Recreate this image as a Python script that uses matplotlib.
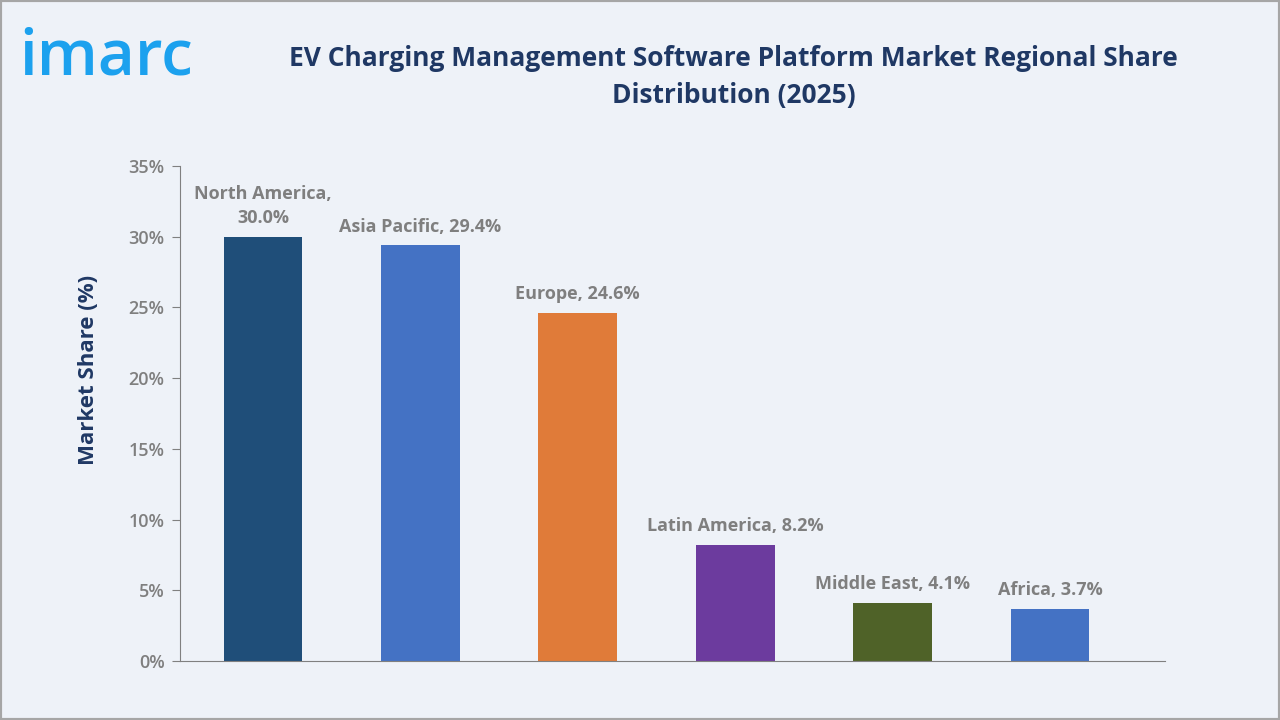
import matplotlib.pyplot as plt
from matplotlib.patches import Rectangle

plt.rcParams['font.family'] = ['Open Sans', 'DejaVu Sans']

regions = ['North America', 'Asia Pacific', 'Europe', 'Latin America', 'Middle East', 'Africa']
shares = [30.0, 29.4, 24.6, 8.2, 4.1, 3.7]
colors = ['#1f4e79', '#4472c4', '#e07b39', '#6c3b9e', '#4f6228', '#4472c4']
yticks = [0, 5, 10, 15, 20, 25, 30, 35]

bg = '#eef2f8'
grey = '#7f7f7f'
navy = '#1f3864'

fig = plt.figure(figsize=(12.8, 7.2), dpi=100, facecolor=bg)
fig.patches.append(Rectangle((0, 0), 1, 1, transform=fig.transFigure, fill=False,
                             edgecolor='#a6a6a6', linewidth=3))

ax = fig.add_axes([0.1406, 0.0819, 0.7695, 0.6875], facecolor=bg)
x = range(len(regions))
ax.bar(x, shares, width=0.5, color=colors)

for i, (r, v) in enumerate(zip(regions, shares)):
    if i == 0:
        txt = f'{r},\n{v:.1f}%'
    else:
        txt = f'{r}, {v:.1f}%'
    ax.annotate(txt, (i, v), xytext=(0, 7), textcoords='offset points', ha='center', va='bottom',
                fontsize=13, fontweight='bold', color=grey, linespacing=1.45)

ax.set_xlim(-0.527, 5.73)
ax.set_ylim(0, 35)
ax.set_yticks(yticks)
ax.set_yticklabels([f'{t}%' for t in yticks], fontsize=13, fontweight='semibold', color=grey)
ax.set_xticks([])
for s in ['top', 'right']:
    ax.spines[s].set_visible(False)
for s in ['left', 'bottom']:
    ax.spines[s].set_color('#808080')
ax.tick_params(axis='y', length=6, color='#808080', pad=5)
ax.set_ylabel('Market Share (%)', fontsize=16, fontweight='bold', color=navy)
ax.yaxis.set_label_coords(-0.082, 0.588)

fig.text(0.573, 0.893, 'EV Charging Management Software Platform Market Regional Share\nDistribution (2025)',
         ha='center', va='center', fontsize=19, fontweight='bold', color=navy, linespacing=1.45)
fig.text(0.015, 0.896, 'imarc', ha='left', va='baseline', fontsize=46, fontweight='semibold', color='#1ca1ee')

fig.savefig('out.png', dpi=100, facecolor=bg)
